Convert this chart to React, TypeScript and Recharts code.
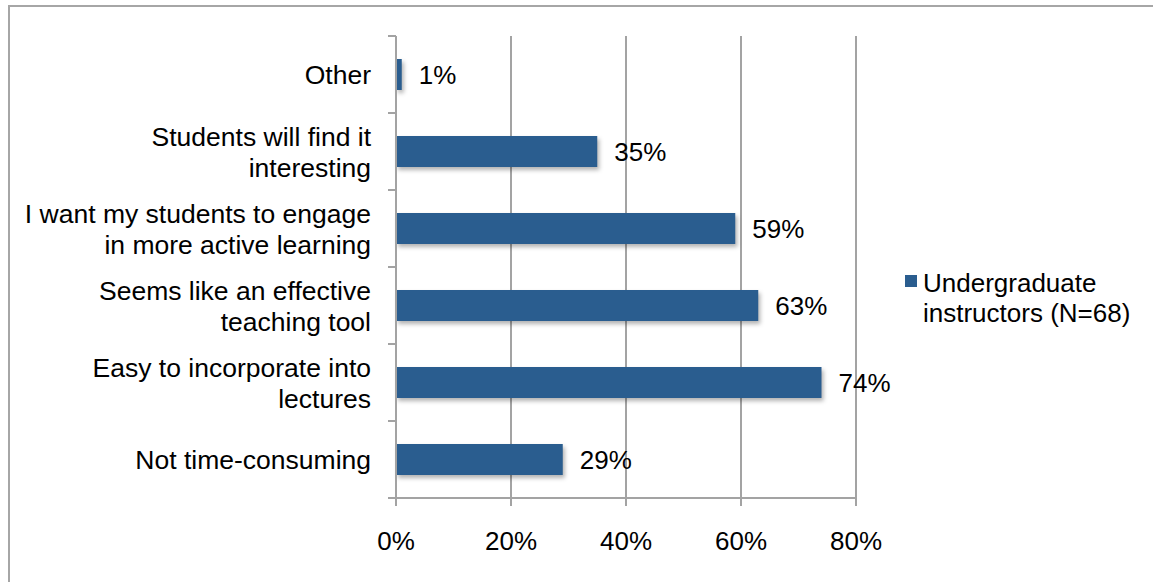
import { BarChart, Bar, XAxis, YAxis, CartesianGrid, Legend, LabelList } from 'recharts';

const categories = [
  'Other',
  'Students will find it\ninteresting',
  'I want my students to engage\nin more active learning',
  'Seems like an effective\nteaching tool',
  'Easy to incorporate into\nlectures',
  'Not time-consuming',
];
const percents = [1, 35, 59, 63, 74, 29];
const xTicks = [0, 20, 40, 60, 80];
const seriesName = 'Undergraduate\ninstructors (N=68)';

const chartData = categories.map((name, i) => ({ name, value: percents[i] }));

const W = 1153;
const H = 582;
const margin = { top: 36, right: 297, bottom: 24, left: 0 };
const xAxisHeight = 60;
const bandSize = (H - margin.top - margin.bottom - xAxisHeight) / categories.length;

const FONT = '"Liberation Sans", Arial, Helvetica, sans-serif';
const GRID = '#a3a3a3';
const BAR = '#2a5d8f';

function CategoryTick(props: any) {
  const { x, y, payload, index } = props;
  const lines = String(payload.value).split('\n');
  const axisX = x + 25;
  return (
    <g>
      <line x1={axisX - 8} x2={axisX} y1={y - bandSize / 2} y2={y - bandSize / 2} stroke={GRID} strokeWidth={2} />
      {index === categories.length - 1 && (
        <line x1={axisX - 8} x2={axisX} y1={y + bandSize / 2} y2={y + bandSize / 2} stroke={GRID} strokeWidth={2} />
      )}
      <text x={x} y={y} textAnchor="end" fontSize={26.5} fontFamily={FONT} fill="#000">
        {lines.map((l, i) => (
          <tspan key={i} x={x} y={y + (i - (lines.length - 1) / 2) * 31} dy="0.36em">
            {l}
          </tspan>
        ))}
      </text>
    </g>
  );
}

function ShadowBar(props: any) {
  const { x, y, width, height, fill } = props;
  return (
    <rect x={x} y={y} width={width} height={height} fill={fill} style={{ filter: 'drop-shadow(2px 3px 2px rgba(0,0,0,0.3))' }} />
  );
}

function LegendBox() {
  const lines = seriesName.split('\n');
  return (
    <div style={{ position: 'relative', fontFamily: FONT, fontSize: 26, lineHeight: '30px', color: '#000' }}>
      <span style={{ position: 'absolute', left: 0, top: 7, width: 12, height: 12, background: BAR }} />
      <div style={{ marginLeft: 18 }}>
        {lines.map((l, i) => (
          <div key={i} style={{ whiteSpace: 'nowrap' }}>{l}</div>
        ))}
      </div>
    </div>
  );
}

export default function App() {
  return (
    <div style={{ position: 'absolute', left: 0, top: 0, width: W, height: H, background: '#fff', overflow: 'hidden' }}>
      <div
        style={{
          position: 'absolute',
          left: 8,
          top: 5,
          right: 0,
          bottom: 0,
          borderLeft: '2px solid #a6a6a6',
          borderTop: '2px solid #a6a6a6',
        }}
      />
      <div style={{ position: 'absolute', left: 0, top: 0 }}>
        <BarChart width={W} height={H} data={chartData} layout="vertical" margin={margin} barSize={31}>
          <CartesianGrid horizontal={false} vertical stroke={GRID} strokeWidth={2} />
          <XAxis
            type="number"
            domain={[0, 80]}
            ticks={xTicks}
            tickFormatter={(v: number) => `${v}%`}
            height={xAxisHeight}
            tickSize={8}
            tickMargin={26}
            axisLine={{ stroke: GRID, strokeWidth: 2 }}
            tickLine={{ stroke: GRID, strokeWidth: 2 }}
            tick={{ fontSize: 26, fontFamily: FONT, fill: '#000' }}
          />
          <YAxis
            type="category"
            dataKey="name"
            width={396}
            tickSize={8}
            tickMargin={17}
            tickLine={false}
            axisLine={{ stroke: GRID, strokeWidth: 2 }}
            tick={<CategoryTick />}
            interval={0}
          />
          <Legend
            layout="horizontal"
            verticalAlign="middle"
            align="center"
            content={() => <LegendBox />}
            wrapperStyle={{ left: 905, top: 268, width: 240, height: 64 }}
          />
          <Bar dataKey="value" name={seriesName} fill={BAR} isAnimationActive={false} shape={<ShadowBar />}>
            <LabelList
              dataKey="value"
              position="right"
              offset={17}
              formatter={(v: any) => `${v}%`}
              style={{ fontSize: 26, fontFamily: FONT, fill: '#000' }}
            />
          </Bar>
        </BarChart>
      </div>
    </div>
  );
}
